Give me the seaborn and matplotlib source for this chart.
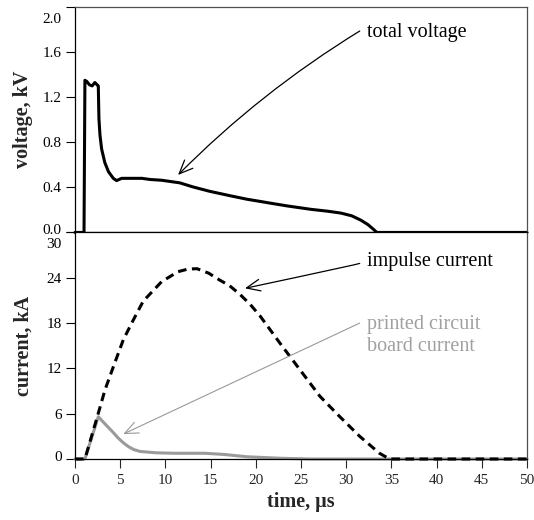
import numpy as np
import pandas as pd
import matplotlib
matplotlib.use("Agg")
import matplotlib.pyplot as plt
from matplotlib.transforms import ScaledTranslation
import seaborn as sns

# ---- data ----
t_volt = [0, 1.0, 1.1, 1.3, 1.6, 1.9, 2.2, 2.45, 2.58, 2.65, 2.77, 2.95, 3.3, 3.7, 4.24, 4.6,
          5.16, 7.4, 8.3, 9.6, 11.6, 13.0, 14.9, 17.2, 19.0, 20.5, 21.6, 23.5, 26.1,
          28.0, 29.4, 30.6, 31.6, 32.4, 32.9, 33.4, 40, 50]
voltage = [0, 0, 1.35, 1.34, 1.31, 1.30, 1.33, 1.31, 1.30, 1.01, 0.86, 0.74, 0.62, 0.54, 0.48, 0.46,
           0.48, 0.48, 0.47, 0.463, 0.44, 0.405, 0.365, 0.325, 0.295, 0.275, 0.26, 0.235, 0.205,
           0.188, 0.172, 0.148, 0.11, 0.07, 0.036, 0, 0, 0]

t_imp = [0, 1.1, 2.58, 3.32, 4.24, 5.35, 6.45, 7.55, 9.6, 11.4, 12.5, 13.5, 14.8, 16.0, 17.1,
         18.25, 19.4, 20.5, 22.7, 24.9, 27.1, 29.3, 31.5, 33.7, 34.8, 50]
imp = [0, 0, 6.06, 9.15, 12.2, 15.8, 18.4, 20.9, 23.5, 24.8, 25.15, 25.2, 24.6, 23.7, 22.95,
       21.8, 20.45, 18.9, 15.3, 11.8, 8.3, 5.6, 3.0, 0.75, 0, 0]

t_pcb = [0, 1.1, 2.58, 3.2, 4.24, 4.8, 5.35, 5.9, 6.5, 7.2, 9.0, 11.1, 14.4, 16.5, 19.0, 22.7, 26, 50]
pcb = [0, 0, 5.6, 4.8, 3.5, 2.75, 2.15, 1.65, 1.25, 1.0, 0.82, 0.76, 0.76, 0.6, 0.3, 0.1, 0, 0]

v_ticks = [0.0, 0.4, 0.8, 1.2, 1.6, 2.0]
i_ticks = [0, 6, 12, 18, 24, 30]
x_ticks = [0, 5, 10, 15, 20, 25, 30, 35, 40, 45, 50]

sns.set_style("ticks")
plt.rcParams['font.family'] = ['Liberation Serif', 'DejaVu Serif']

fig = plt.figure(figsize=(5.34, 5.2), dpi=100)
ax1 = fig.add_axes([0.1404, 0.5530, 0.8464, 0.4335])
ax2 = fig.add_axes([0.1404, 0.1173, 0.8464, 0.4357], sharex=ax1)

df_v = pd.DataFrame({"t": t_volt, "v": voltage})
df_i = pd.DataFrame({"t": t_imp, "i": imp})
df_p = pd.DataFrame({"t": t_pcb, "p": pcb})

sns.lineplot(data=df_v, x="t", y="v", ax=ax1, color="black", lw=2.2,
             estimator=None, sort=False, clip_on=False)
sns.lineplot(data=df_p, x="t", y="p", ax=ax2, color="#9a9a9a", lw=2.2,
             estimator=None, sort=False, clip_on=False)
sns.lineplot(data=df_i, x="t", y="i", ax=ax2, color="black", lw=2.2,
             estimator=None, sort=False, clip_on=False)
ax2.lines[-1].set_dashes((2.8, 1.8))

ax1.set_xlim(0, 50)
ax1.set_ylim(0, 2.0)
ax2.set_ylim(0, 30)

tick_font = 11
ax1.set_yticks(v_ticks)
ax1.set_yticklabels([f"{v:.1f}" for v in v_ticks], fontsize=tick_font)
ax2.set_yticks(i_ticks)
ax2.set_yticklabels([str(v) for v in i_ticks], fontsize=tick_font)
ax2.set_xticks(x_ticks)
ax2.set_xticklabels([str(v) for v in x_ticks], fontsize=tick_font)

ax1.tick_params(axis='x', length=0, labelbottom=False)
for ax in (ax1, ax2):
    ax.tick_params(axis='y', direction='out', length=6.5, width=0.8, pad=3, colors='black')
    for s in ax.spines.values():
        s.set_visible(True)
        s.set_linewidth(0.9)
        s.set_color('black')
ax2.tick_params(axis='x', direction='out', length=6.5, width=0.8, pad=4)
ax1.spines['top'].set_color('#505050')
ax1.spines['right'].set_color('#505050')
ax2.spines['right'].set_color('#505050')

# shift the top tick labels down (as in the reference)
off_down = ScaledTranslation(0, -11 / 100, fig.dpi_scale_trans)
for ax in (ax1, ax2):
    lab = ax.get_yticklabels()[-1]
    lab.set_transform(lab.get_transform() + off_down)
off_up = ScaledTranslation(0, 3 / 100, fig.dpi_scale_trans)
for ax in (ax1, ax2):
    lab = ax.get_yticklabels()[0]
    lab.set_transform(lab.get_transform() + off_up)

lab_font = 14.5
ax1.set_ylabel("voltage, kV", fontsize=lab_font, fontweight='bold')
ax2.set_ylabel("current, kA", fontsize=lab_font, fontweight='bold')
ax2.set_xlabel("time, µs", fontsize=lab_font, fontweight='bold', labelpad=4)
ax1.set_xlabel("")
ax1.yaxis.set_label_coords(-0.092, 0.5)
ax2.yaxis.set_label_coords(-0.092, 0.5)

ann_font = 14.5
ap = "->,head_length=0.7,head_width=0.3"
# total voltage
ax1.text(32.3, 1.774, "total voltage", fontsize=ann_font, ha='left', va='center', color='black')
ax1.annotate("", xy=(11.4, 0.51), xytext=(31.5, 1.787),
             arrowprops=dict(arrowstyle=ap, lw=0.9, color='black',
                             shrinkA=0, shrinkB=0, mutation_scale=14,
                             connectionstyle="arc3,rad=0.06"))
# impulse current
ax2.text(32.3, 26.2, "impulse current", fontsize=ann_font, ha='left', va='center', color='black')
ax2.annotate("", xy=(18.8, 22.6), xytext=(31.5, 25.9),
             arrowprops=dict(arrowstyle=ap, lw=0.9, color='black',
                             shrinkA=0, shrinkB=0, mutation_scale=14,
                             connectionstyle="angle3,angleA=0,angleB=12"))
# printed circuit board current
ax2.text(32.3, 16.4, "printed circuit\nboard current", fontsize=ann_font, ha='left', va='center',
         color='#a0a0a0', linespacing=1.2)
ax2.annotate("", xy=(5.34, 3.3), xytext=(31.5, 18.0),
             arrowprops=dict(arrowstyle=ap, lw=0.8, color='#999999',
                             shrinkA=0, shrinkB=0, mutation_scale=14))

fig.savefig("out.png", dpi=100)
